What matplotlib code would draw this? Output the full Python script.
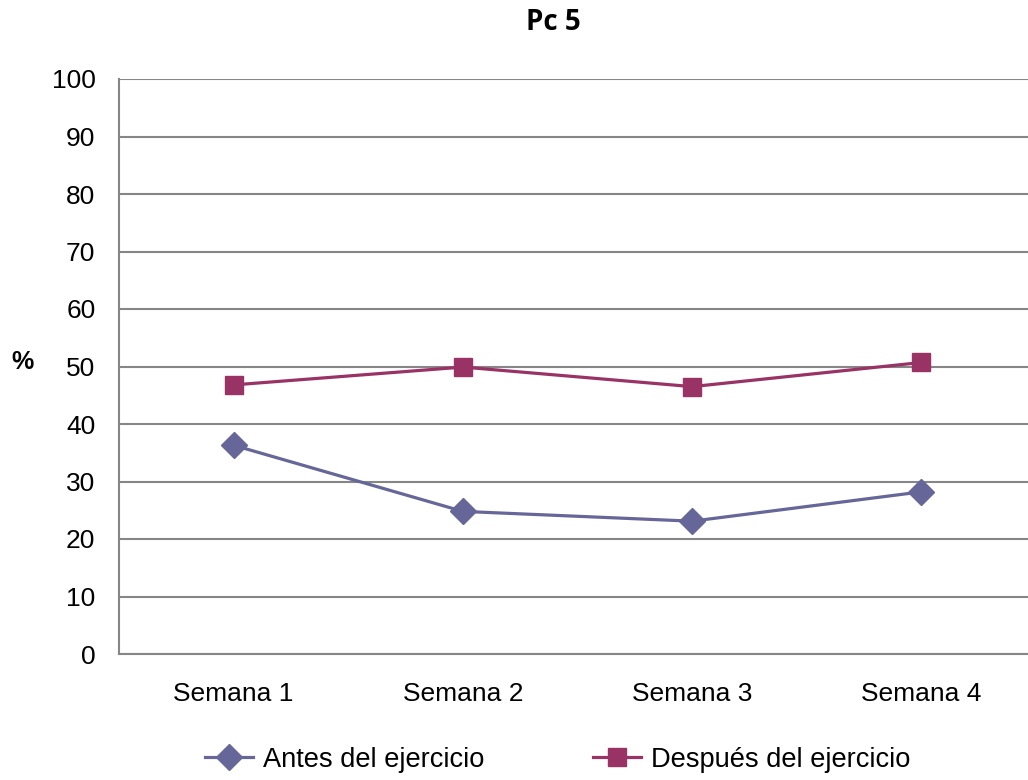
import matplotlib
matplotlib.use("Agg")
import matplotlib.pyplot as plt

categories = ["Semana 1", "Semana 2", "Semana 3", "Semana 4"]
antes = [36.3, 24.8, 23.1, 28.2]
despues = [46.8, 49.9, 46.5, 50.7]
yticks = [0, 10, 20, 30, 40, 50, 60, 70, 80, 90, 100]
series_names = ["Antes del ejercicio", "Después del ejercicio"]
title = "Pc 5"
ylabel = "%"

plt.rcParams['font.family'] = ['Liberation Sans', 'DejaVu Sans']

W, H = 1028, 780
fig = plt.figure(figsize=(W / 100, H / 100), dpi=100)
ax = fig.add_axes([119 / W, 1 - 654 / H, (1036 - 119) / W, (654 - 79) / H])

x = list(range(len(categories)))
ax.plot(x, antes, color="#666699", lw=2.3, marker="D", markersize=13,
        label=series_names[0], zorder=3)
ax.plot(x, despues, color="#993366", lw=2.3, marker="s", markersize=12.5,
        label=series_names[1], zorder=3)

ax.set_xlim(-0.5, 3.5)
ax.set_ylim(0, 100)
ax.set_yticks(yticks)
ax.set_xticks(x)
ax.set_xticklabels(categories)
ax.yaxis.grid(True, color="#868686", lw=1.5)
ax.set_axisbelow(True)
for s in ["top", "right"]:
    ax.spines[s].set_visible(False)
for s in ["left", "bottom"]:
    ax.spines[s].set_color("#868686")
    ax.spines[s].set_linewidth(1.5)
ax.tick_params(axis="both", length=0, labelsize=19)
ax.tick_params(axis="y", pad=17)
ax.tick_params(axis="x", pad=20)

fig.text(553 / W, 1 - 22 / H, title, ha="center", va="center",
         fontsize=20, fontweight="bold", family=["Open Sans", "DejaVu Sans"])
fig.text(22 / W, 1 - 362 / H, ylabel, ha="center", va="center",
         fontsize=18, fontweight="bold")

fig.legend(loc="center", bbox_to_anchor=(558 / W, 1 - 760 / H), ncol=2,
           frameon=False, fontsize=19.6, handlelength=1.75, columnspacing=4.0,
           handletextpad=0.37)

fig.savefig("out.png", dpi=100)
